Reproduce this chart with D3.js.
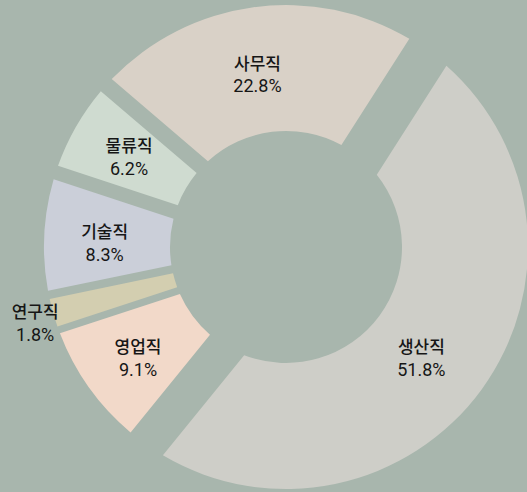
<!DOCTYPE html>
<html><head><meta charset="utf-8">
<script src="https://cdn.jsdelivr.net/npm/d3@7"></script>
<style>html,body{margin:0;padding:0;background:#a8b6ad;} svg{display:block}</style>
</head><body>
<svg id="chart" width="527" height="492"></svg>
<script>
// ---- data ----
const categories = ["사무직","생산직","영업직","연구직","기술직","물류직"];
const shares = [22.8, 51.8, 9.1, 1.8, 8.3, 6.2];
const valueLabels = ["22.8%","51.8%","9.1%","1.8%","8.3%","6.2%"];

// ---- styles ----
const colors = ["#d9d1c7","#cecec8","#f2d9c9","#d3ceb0","#cbcfd9","#cfdbd0"];
const edgeInsets = [[14.5,8.2],[37.6,35.7],[3.8,11.5],[-4.2,2.9],[5.4,8.2],[6.0,1.8]];
const labelRadius = [179,179,179,262,179,179];
const labelNudge = [[-2.2,4.75],[-9.8,6.8],[-0.6,10.1],[2.3,8.3],[-2.6,6],[-0.9,-1.7]];

const W=527,H=492, cx=286, cy=247, R=242, r0=116;
const start = -49.5*Math.PI/180;

const svg = d3.select("#chart");
svg.append("rect").attr("width",W).attr("height",H).attr("fill","#a8b6ad");
const g = svg.append("g").attr("transform",`translate(${cx},${cy})`);

const pie = d3.pie().sort(null).value(d=>d.v).startAngle(start).endAngle(start+2*Math.PI);
const data = categories.map((c,i)=>({c, v:shares[i], label:valueLabels[i], i}));
const arcs = pie(data);

function slicePath(a, ins){
  const p = d3.path();
  const h = Math.PI/2;
  const o0 = a.startAngle + Math.asin(ins[0]/R), o1 = a.endAngle - Math.asin(ins[1]/R);
  const i0 = a.startAngle + Math.asin(ins[0]/r0), i1 = a.endAngle - Math.asin(ins[1]/r0);
  p.moveTo(R*Math.sin(o0), -R*Math.cos(o0));
  p.arc(0,0,R,o0-h,o1-h,false);
  p.lineTo(r0*Math.sin(i1), -r0*Math.cos(i1));
  p.arc(0,0,r0,i1-h,i0-h,true);
  p.closePath();
  return p.toString();
}

g.selectAll("path.slice").data(arcs).join("path")
  .attr("class","slice")
  .attr("d",(a,i)=>slicePath(a, edgeInsets[i]))
  .attr("fill",(a,i)=>colors[i]);

const lab = g.selectAll("g.lab").data(arcs).join("g").attr("class","lab")
  .attr("transform",(a,i)=>{
    const m=(a.startAngle+a.endAngle)/2, lr=labelRadius[i];
    return `translate(${lr*Math.sin(m)+labelNudge[i][0]},${-lr*Math.cos(m)+labelNudge[i][1]})`;
  });
lab.append("text").attr("text-anchor","middle").attr("y",-5.2)
  .style("font-family","'Noto Sans CJK KR', sans-serif").style("font-size","17px")
  .style("font-weight","500")
  .attr("fill","#161616").text(a=>a.data.c);
lab.append("text").attr("text-anchor","middle").attr("y",17.8)
  .style("font-family","Roboto, 'Liberation Sans', sans-serif").style("font-size","18px")
  .style("font-weight","400")
  .attr("fill","#161616").text(a=>a.data.label);
</script>
</body></html>
